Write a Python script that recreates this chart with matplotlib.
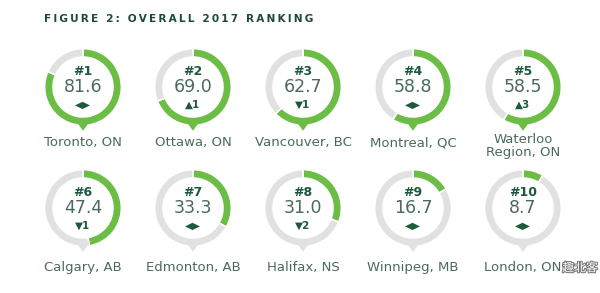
import matplotlib
matplotlib.use("Agg")
import matplotlib.pyplot as plt
from matplotlib.patches import Polygon
import matplotlib.patheffects as pe

# ---- data ----
title = "FIGURE 2: OVERALL 2017 RANKING"
cities = ["Toronto, ON", "Ottawa, ON", "Vancouver, BC", "Montreal, QC", "Waterloo\nRegion, ON",
          "Calgary, AB", "Edmonton, AB", "Halifax, NS", "Winnipeg, MB", "London, ON"]
ranks = [1, 2, 3, 4, 5, 6, 7, 8, 9, 10]
scores = [81.6, 69.0, 62.7, 58.8, 58.5, 47.4, 33.3, 31.0, 16.7, 8.7]
changes = [0, 1, -1, 0, 3, -1, 0, -2, 0, 0]
max_score = 100

GREEN = "#6cbd45"
GRAY = "#e1e1e1"
DARK = "#1d5a3b"
MID = "#4a6a5c"

W, H = 600, 293
fig = plt.figure(figsize=(6.0, 2.93), dpi=100)
fig.patch.set_facecolor("white")

spaced_title = "\u2009".join(title)
fig.text(44 / W, 1 - 19 / H, spaced_title, fontsize=7.6, fontweight="bold", color="#1c4a35",
         ha="left", va="center", family="DejaVu Sans")

S = 96  # axes size in px
lim = 1.25
col_x = [83, 193, 303, 413, 523]
row_y = [87, 208]
label_y = [143, 268]

for i, (city, rk, sc, ch) in enumerate(zip(cities, ranks, scores, changes)):
    cx = col_x[i % 5]
    cy = row_y[i // 5]
    ax = fig.add_axes([(cx - S / 2) / W, 1 - (cy + S / 2) / H, S / W, S / H])
    ax.set_xlim(-lim, lim)
    ax.set_ylim(-lim, lim)
    ax.set_aspect("equal")
    ax.axis("off")
    ax.pie([sc, max_score - sc], colors=[GREEN, GRAY], startangle=90, counterclock=False,
           radius=1.0, wedgeprops=dict(width=0.22, edgecolor="white", linewidth=1.2))
    # pointer tail at bottom
    tail_col = GREEN if sc > max_score / 2 else GRAY
    ax.add_patch(Polygon([[-0.2, -0.86], [0.2, -0.86], [0, -1.14]], closed=True,
                         facecolor=tail_col, edgecolor="none", zorder=3))
    ax.text(0, 0.4, f"#{rk}", ha="center", va="center", fontsize=9, fontweight="bold",
            color=DARK, family="DejaVu Sans")
    ax.text(0, 0.0, f"{sc:.1f}", ha="center", va="center", fontsize=12.5, color=MID,
            family="DejaVu Sans")
    if ch == 0:
        arrow = "◀▶"
    elif ch > 0:
        arrow = f"▲{ch}"
    else:
        arrow = f"▼{-ch}"
    ax.text(0, -0.45, arrow, ha="center", va="center", fontsize=7.5, fontweight="bold",
            color=DARK, family="DejaVu Sans")
    ly = label_y[i // 5] + (3 if "\n" in city else 0)
    fig.text(cx / W, 1 - ly / H, city, ha="center", va="center", fontsize=9.5, color=MID,
             family="DejaVu Sans", linespacing=0.95)

# watermark
fig.text(580 / W, 1 - 268 / H, "趣北客", fontsize=8.5, color="white", ha="center", va="center",
         family=["Noto Sans CJK SC", "DejaVu Sans"],
         path_effects=[pe.withStroke(linewidth=1.5, foreground="#777777")])

fig.savefig("out.png", dpi=100, facecolor="white")
